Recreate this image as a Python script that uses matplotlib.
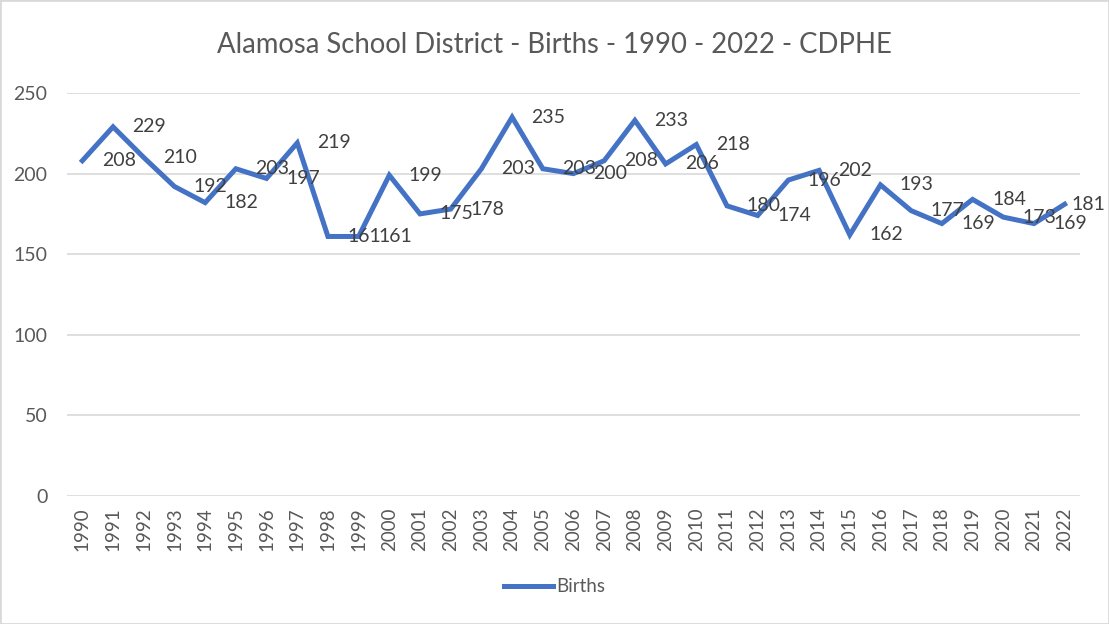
import matplotlib.pyplot as plt
from matplotlib.patches import Rectangle

plt.rcParams['font.family'] = ['Lato', 'DejaVu Sans']

years = [str(y) for y in range(1990, 2023)]
births = [208, 229, 210, 192, 182, 203, 197, 219, 161, 161,
          199, 175, 178, 203, 235, 203, 200, 208, 233, 206,
          218, 180, 174, 196, 202, 162, 193, 177, 169, 184,
          173, 169, 181]
yticks = [0, 50, 100, 150, 200, 250]

line_color = '#4472C4'
text_color = '#595959'
grid_color = '#D9D9D9'

fig = plt.figure(figsize=(11.09, 6.24), dpi=100)
ax = fig.add_axes([67 / 1109, 1 - 496 / 624, (1080 - 67) / 1109, (496 - 93) / 624])

x = range(len(years))
ax.plot(x, births, color=line_color, lw=3.6, solid_joinstyle='miter', label='Births')

# data labels to the right of each point, like Excel
for xi, v in zip(x, births):
    dx = 14 if xi < len(years) - 1 else 5
    ax.annotate(str(v), (xi, v), xytext=(dx, 0), textcoords='offset points',
                ha='left', va='center', fontsize=14, color='#404040')

ax.set_xlim(-0.5, len(years) - 0.5)
ax.set_ylim(0, 250)
ax.set_xticks(list(x))
ax.set_xticklabels(years, rotation=90, fontsize=13.5, color=text_color)
ax.set_yticks(yticks)
ax.set_yticklabels([str(t) for t in yticks], fontsize=14, color=text_color)
ax.tick_params(length=0, pad=8)
ax.tick_params(axis='y', pad=14)
ax.grid(axis='y', color=grid_color, lw=1.2)
ax.set_axisbelow(True)
for s in ax.spines.values():
    s.set_visible(False)

fig.text(0.5, 1 - 45 / 624, 'Alamosa School District - Births - 1990 - 2022 - CDPHE',
         ha='center', va='center', fontsize=19.8, color=text_color)

fig.legend(loc='center', bbox_to_anchor=(0.5, 1 - 587 / 624), frameon=False,
           fontsize=13.5, labelcolor=text_color, handlelength=2.6, handletextpad=0.2)

fig.patches.append(Rectangle((0, 0), 1, 1, transform=fig.transFigure, fill=False,
                             edgecolor=grid_color, lw=2))

fig.savefig('out.png', dpi=100)
